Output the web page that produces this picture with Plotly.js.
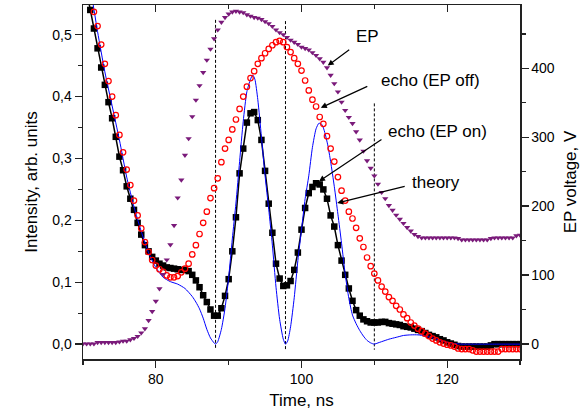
<!DOCTYPE html>
<html>
<head>
<meta charset="utf-8">
<script src="https://cdn.plot.ly/plotly-3.0.1.min.js"></script>
<style>html,body{margin:0;padding:0;background:#fff;}#chart{width:587px;height:414px;}</style>
</head>
<body>
<div id="chart"></div>
<script>
// Shared time grid for measured series (ns)
var timeGrid = [
  70,70.5,71,71.5,72,72.5,73,73.5,74,74.5,
  75,75.5,76,76.5,77,77.5,78,78.5,79,79.5,
  80,80.5,81,81.5,82,82.5,83,83.5,84,84.5,
  85,85.5,86,86.5,87,87.5,88,88.5,89,89.5,
  90,90.5,91,91.5,92,92.5,93,93.5,94,94.5,
  95,95.5,96,96.5,97,97.5,98,98.5,99,99.5,
  100,100.5,101,101.5,102,102.5,103,103.5,104,104.5,
  105,105.5,106,106.5,107,107.5,108,108.5,109,109.5,
  110,110.5,111,111.5,112,112.5,113,113.5,114,114.5,
  115,115.5,116,116.5,117,117.5,118,118.5,119,119.5,
  120,120.5,121,121.5,122,122.5,123,123.5,124,124.5,
  125,125.5,126,126.5,127,127.5,128,128.5,129,129.5,
  130];

// EP voltage, V (right axis)
var epVoltage = [
  0,0,0,0,2,2,2,2,2,2,
  3,4,4,6,8,11,16,22,34,47,
  62,80,101,122,144,172,212,238,274,298,
  330,354,375,394,412,428,443,456,467,474,
  479,482,483,482,481,478,476,474,473,471,
  468,465,461,456,452,449,445,441,438,435,
  431,429,427,423,419,414,409,401,390,378,
  366,351,339,329,320,308,296,280,266,255,
  244,232,220,211,201,194,187,181,175,169,
  164,159,156,154,154,154,154,154,154,154,
  154,154,154,153,151,151,151,151,151,151,
  151,151,153,154,154,154,154,154,154,157,
  158];

// echo (EP off), arb. units
var echoOff = [
  0.61,0.585,0.56,0.537,0.514,0.484,0.453,0.425,0.400,0.370,
  0.338,0.310,0.282,0.257,0.232,0.208,0.187,0.165,0.149,0.136,
  0.127,0.121,0.117,0.111,0.108,0.108,0.110,0.116,0.122,0.130,
  0.145,0.160,0.178,0.196,0.214,0.236,0.252,0.268,0.294,0.316,
  0.330,0.347,0.363,0.380,0.400,0.416,0.430,0.441,0.453,0.462,
  0.470,0.477,0.483,0.488,0.490,0.488,0.480,0.472,0.462,0.453,
  0.442,0.426,0.410,0.395,0.384,0.367,0.356,0.336,0.316,0.295,
  0.270,0.248,0.232,0.214,0.203,0.188,0.171,0.157,0.140,0.126,
  0.114,0.103,0.093,0.085,0.076,0.070,0.062,0.056,0.048,0.042,
  0.035,0.030,0.025,0.021,0.017,0.013,0.009,0.006,0.003,0.001,
  -0.001,-0.002,-0.004,-0.007,-0.008,-0.008,-0.008,-0.010,-0.012,-0.012,
  -0.012,-0.012,-0.012,-0.012,-0.012,-0.008,-0.008,-0.008,-0.008,-0.008,
  -0.008];

// echo (EP on), arb. units
var echoOn = [
  0.60,0.57,0.54,0.51,0.478,0.447,0.419,0.391,0.365,0.335,
  0.303,0.281,0.255,0.235,0.217,0.196,0.177,0.160,0.150,0.141,
  0.135,0.130,0.127,0.124,0.123,0.122,0.121,0.120,0.120,0.118,
  0.112,0.103,0.092,0.079,0.068,0.056,0.046,0.046,0.058,0.078,
  0.105,0.150,0.205,0.276,0.316,0.358,0.373,0.375,0.362,0.330,
  0.280,0.227,0.180,0.130,0.106,0.094,0.095,0.102,0.120,0.148,
  0.185,0.220,0.244,0.254,0.260,0.258,0.250,0.235,0.208,0.190,
  0.160,0.135,0.112,0.090,0.070,0.055,0.046,0.040,0.037,0.035,
  0.035,0.035,0.036,0.036,0.034,0.033,0.032,0.031,0.029,0.028,
  0.027,0.025,0.023,0.021,0.018,0.015,0.013,0.011,0.008,0.006,
  0.003,0.001,-0.001,-0.003,-0.004,-0.004,-0.004,-0.004,-0.004,-0.004,
  -0.004,-0.004,-0.002,0.0,0.0,0.0,0.0,0.0,0.0,0.0,
  0.0];

// theory curve
var theoryTime = [
  70,71,72,73,74,75,76,77,78,79,80,81,82,83,84,85,85.5,86,86.5,87,87.5,88,88.2,88.5,
  89,89.5,90,90.5,91,91.5,92,92.5,93,93.3,93.6,94,94.5,95,95.5,96,96.5,97,97.5,97.8,
  98.1,98.5,99,99.5,100,100.5,101,101.5,102,102.4,102.8,103.2,103.6,104,104.5,105,
  105.5,106,106.5,107,107.5,108,108.5,109,109.5,110,110.5,111,112,113,114,115,116,
  117,118,119,120,121,122,123,124,125,126,127,128,129,130];
var theoryVal = [
  0.64,0.577,0.505,0.44,0.385,0.33,0.27,0.222,0.182,0.148,0.124,0.108,0.101,0.097,0.090,0.077,0.068,0.057,0.042,0.024,0.010,0.002,0.0,0.004,
  0.024,0.058,0.108,0.170,0.228,0.295,0.360,0.408,0.428,0.435,0.428,0.395,0.335,0.272,0.218,0.160,0.092,0.040,0.008,0.0,
  0.005,0.028,0.075,0.135,0.185,0.235,0.272,0.318,0.348,0.357,0.355,0.342,0.322,0.295,0.255,0.210,
  0.163,0.113,0.074,0.047,0.033,0.022,0.013,0.006,0.002,0.0,0.002,0.004,0.008,0.011,0.014,0.015,0.015,
  0.013,0.010,0.006,0.003,0.001,0.0,0.0,0.0,0.0,0.0,0.0,0.0,0.0,0.0];

// vertical dashed guide lines
var guideTimes = [88.2, 97.8, 110];
var guideTops = [0.524, 0.522, 0.389];
var guideBottom = -0.009;

// labels
var labelEP = 'EP';
var labelOff = 'echo (EP off)';
var labelOn = 'echo (EP on)';
var labelTheory = 'theory';

var FONT = 'Arial, "Liberation Sans", sans-serif';

var gx = [], gy = [];
for (var i = 0; i < guideTimes.length; i++) {
  gx.push(guideTimes[i], guideTimes[i], null);
  gy.push(guideTops[i], guideBottom, null);
}

var traces = [
  {x: gx, y: gy, mode: 'lines', line: {color: '#000', width: 1, dash: '3px,2px'}, hoverinfo: 'skip', showlegend: false},
  {x: timeGrid, y: echoOn, mode: 'lines+markers', name: labelOn,
   line: {color: '#000', width: 1.5}, marker: {symbol: 'square', size: 6.5, color: '#000'}},
  {x: theoryTime, y: theoryVal, mode: 'lines', name: labelTheory, line: {color: '#0000ff', width: 1, shape: 'spline', smoothing: 0.6}},
  {x: timeGrid, y: echoOff, mode: 'markers', name: labelOff,
   marker: {symbol: 'circle-open', size: 5.5, color: '#ff0000', line: {width: 1.2, color: '#ff0000'}}},
  {x: timeGrid, y: epVoltage, mode: 'markers', name: labelEP, yaxis: 'y2',
   marker: {symbol: 'triangle-down', size: 5.5, color: '#7a1a7a'}},
  {x: [null], y: [null], xaxis: 'x2', yaxis: 'y', showlegend: false, hoverinfo: 'skip'}
];

var axLine = {showline: true, linecolor: '#222', linewidth: 1.5, showgrid: false, zeroline: false};

function textNote(px, py, txt) {
  return {x: px, y: py, xref: 'paper', yref: 'paper', text: txt, showarrow: false,
          xanchor: 'center', yanchor: 'middle', font: {size: 17}};
}
function arrowNote(x, y, yref, ax, ay) {
  return {x: x, y: y, xref: 'x', yref: yref, text: '', showarrow: true, ax: ax, ay: ay,
          arrowhead: 2, arrowsize: 1, arrowwidth: 1.2, arrowcolor: '#000', standoff: 0, startstandoff: 0};
}

var layout = {
  width: 587, height: 414,
  margin: {l: 83, r: 67, t: 5, b: 55, pad: 0},
  paper_bgcolor: '#fff', plot_bgcolor: '#fff',
  showlegend: false,
  separators: ',.',
  font: {family: FONT, size: 14, color: '#000'},
  xaxis: Object.assign({}, axLine, {
    range: [70, 130], dtick: 20, tick0: 0, ticks: 'outside', ticklen: 7, tickwidth: 1.3, tickcolor: '#222',
    minor: {dtick: 10, tick0: 0, ticks: 'outside', ticklen: 4, tickwidth: 1.3, tickcolor: '#222'},
    tickfont: {size: 14},
    title: {text: 'Time, ns', font: {size: 17}, standoff: 8}
  }),
  xaxis2: Object.assign({}, axLine, {
    overlaying: 'x', side: 'top', range: [70, 130], dtick: 20, tick0: 0,
    ticks: 'inside', ticklen: 7, tickwidth: 1.3, tickcolor: '#222', showticklabels: false,
    minor: {dtick: 10, tick0: 0, ticks: 'inside', ticklen: 4, tickwidth: 1.3, tickcolor: '#222'}
  }),
  yaxis: Object.assign({}, axLine, {
    range: [-0.024, 0.548], dtick: 0.1, tick0: 0, tickformat: '.1f',
    ticks: 'outside', ticklen: 7, tickwidth: 1.3, tickcolor: '#222',
    minor: {dtick: 0.05, tick0: 0, ticks: 'outside', ticklen: 4, tickwidth: 1.3, tickcolor: '#222'},
    tickfont: {size: 14},
    title: {text: 'Intensity, arb. units', font: {size: 17}, standoff: 10}
  }),
  yaxis2: Object.assign({}, axLine, {
    overlaying: 'y', side: 'right', range: [-22, 492], dtick: 100, tick0: 0,
    ticks: 'outside', ticklen: 7, tickwidth: 1.3, tickcolor: '#222',
    minor: {dtick: 50, tick0: 0, ticks: 'outside', ticklen: 4, tickwidth: 1.3, tickcolor: '#222'},
    tickfont: {size: 14},
    title: {text: 'EP voltage, V', font: {size: 17}, standoff: 10}
  }),
  annotations: [
    arrowNote(103.6, 404, 'y2', 23, -17),
    arrowNote(102.65, 0.382, 'y', 48, -22),
    arrowNote(102.4, 0.263, 'y', 64, -43),
    arrowNote(104.9, 0.228, 'y', 69, -17),
    textNote(0.652, 0.910, labelEP),
    textNote(0.795, 0.788, labelOff),
    textNote(0.811, 0.642, labelOn),
    textNote(0.808, 0.498, labelTheory)
  ]
};

Plotly.newPlot('chart', traces, layout, {staticPlot: true, displayModeBar: false});
</script>
</body>
</html>
